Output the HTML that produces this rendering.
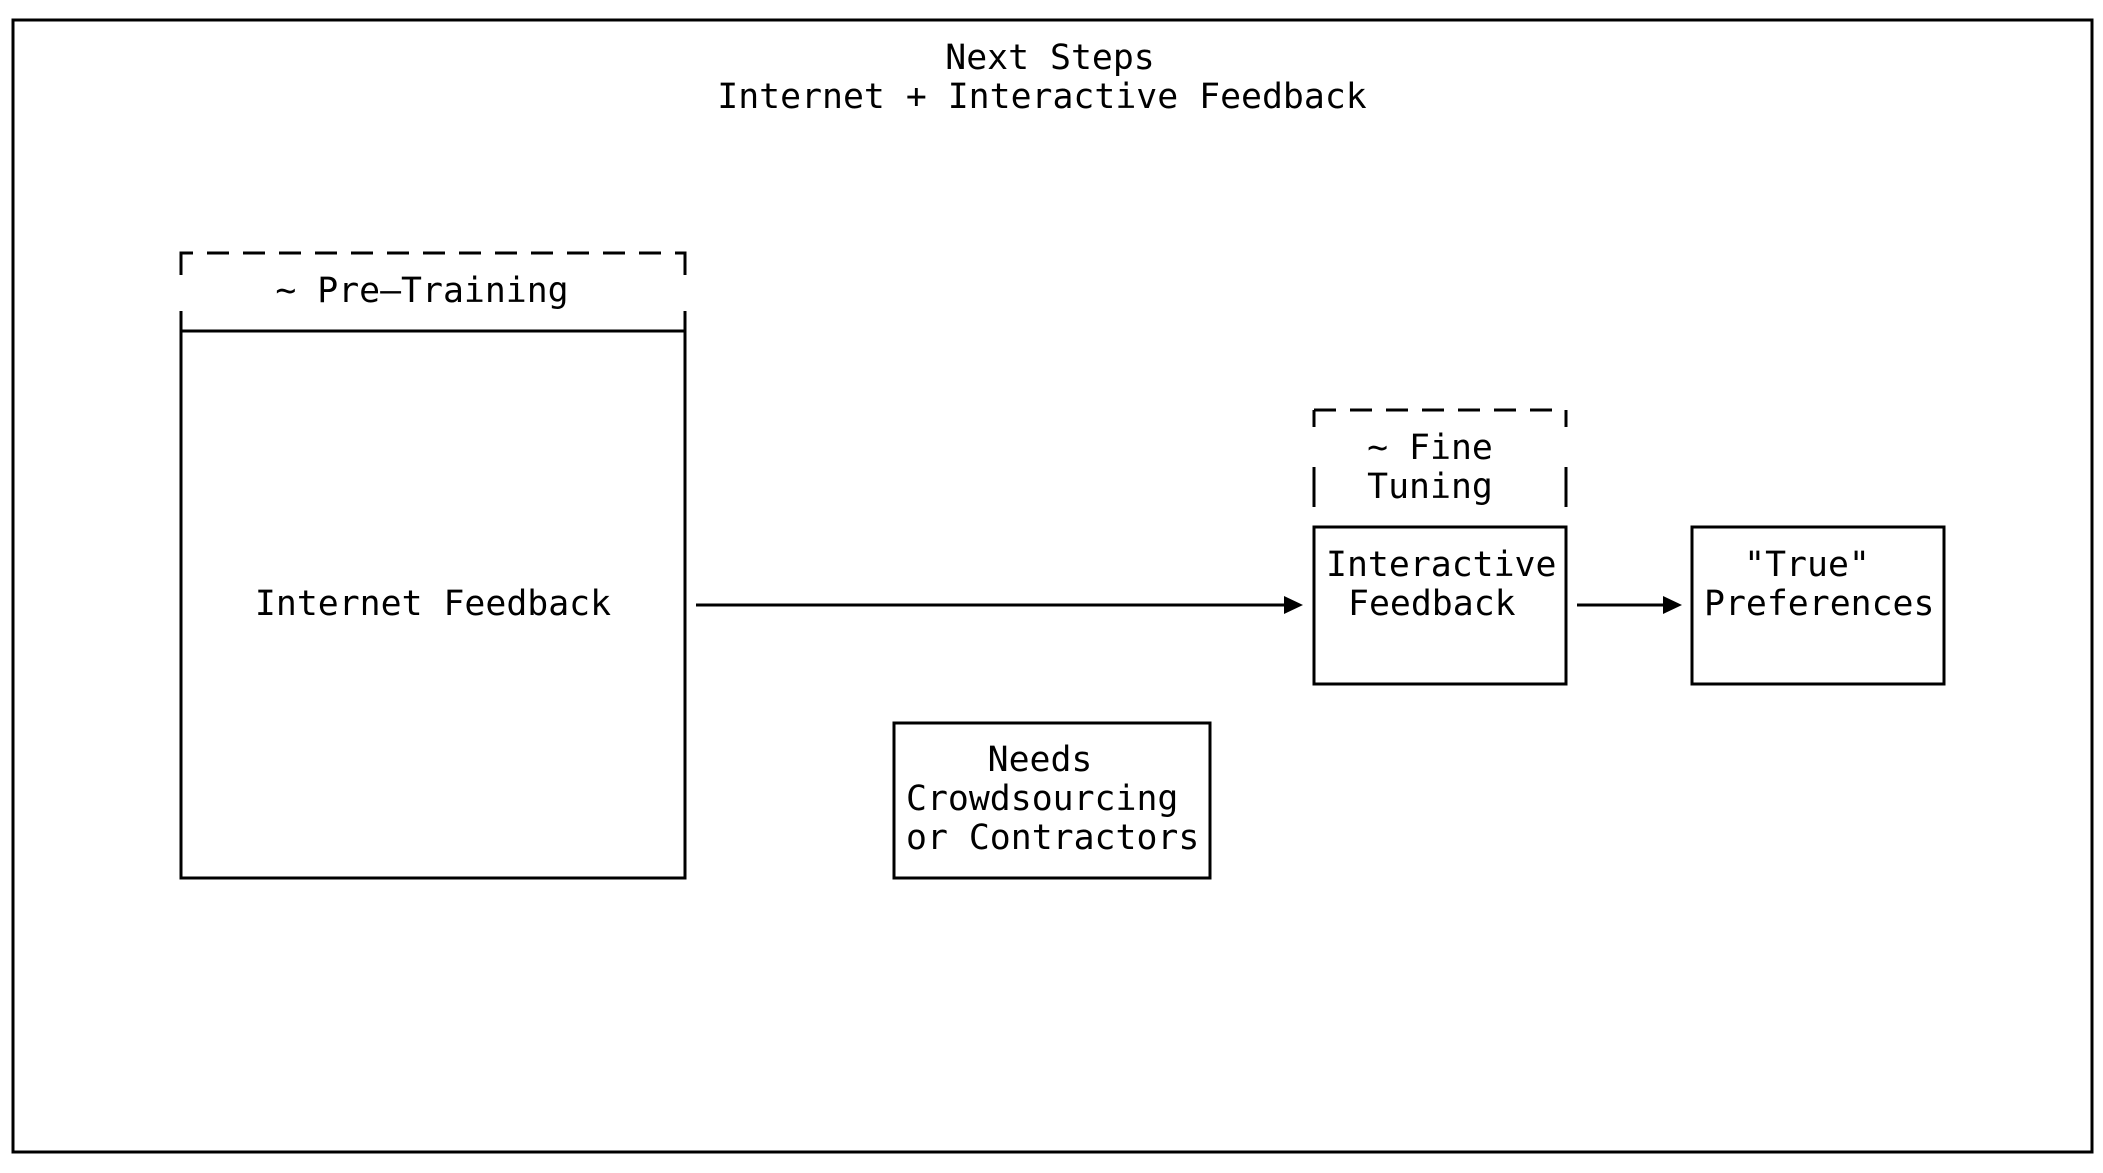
<!DOCTYPE html>
<html><head><meta charset="utf-8"><style>
html,body{margin:0;padding:0;background:#fff;}
svg{display:block;}
text{font-family:"DejaVu Sans Mono","Liberation Mono",monospace;font-size:34.8px;fill:#000;}
</style></head><body>
<svg width="2103" height="1173" viewBox="0 0 2103 1173" xmlns="http://www.w3.org/2000/svg">
<g fill="none" stroke="#000" stroke-width="3">
<rect x="13" y="20" width="2079" height="1132"/>
<path d="M181,263 V253 H685 V263" stroke-dasharray="22,14"/>
<path d="M181,253 V275 M685,253 V275"/>
<path d="M181,311 V878 H685 V311 M181,331 H685"/>
<path d="M1314,410 H1566" stroke-dasharray="22,14"/>
<path d="M1314,410 V427 M1566,410 V427 M1314,467 V507 M1566,467 V507"/>
<rect x="1314" y="527" width="252" height="157"/>
<rect x="1692" y="527" width="252" height="157"/>
<rect x="894" y="723" width="316" height="155"/>
</g>
<g stroke="#000" stroke-width="3">
<line x1="696" y1="605" x2="1290" y2="605"/>
<polygon points="1284,596 1303,605 1284,614" fill="#000" stroke="none"/>
<line x1="1577" y1="605" x2="1668" y2="605"/>
<polygon points="1663,596 1682,605 1663,614" fill="#000" stroke="none"/>
</g>
<text x="1050" y="69" text-anchor="middle">Next Steps</text>
<text x="1042" y="108" text-anchor="middle">Internet + Interactive Feedback</text>
<text x="422" y="302" text-anchor="middle">~ Pre–Training</text>
<text x="433" y="615" text-anchor="middle">Internet Feedback</text>
<text x="1430" y="459" text-anchor="middle">~ Fine</text>
<text x="1430" y="498" text-anchor="middle">Tuning</text>
<text x="1326" y="576">Interactive</text>
<text x="1348" y="615">Feedback</text>
<text x="1807" y="576" text-anchor="middle">"True"</text>
<text x="1704" y="615">Preferences</text>
<text x="1040" y="771" text-anchor="middle">Needs</text>
<text x="906" y="810">Crowdsourcing</text>
<text x="906" y="849">or Contractors</text>
</svg>
</body></html>
